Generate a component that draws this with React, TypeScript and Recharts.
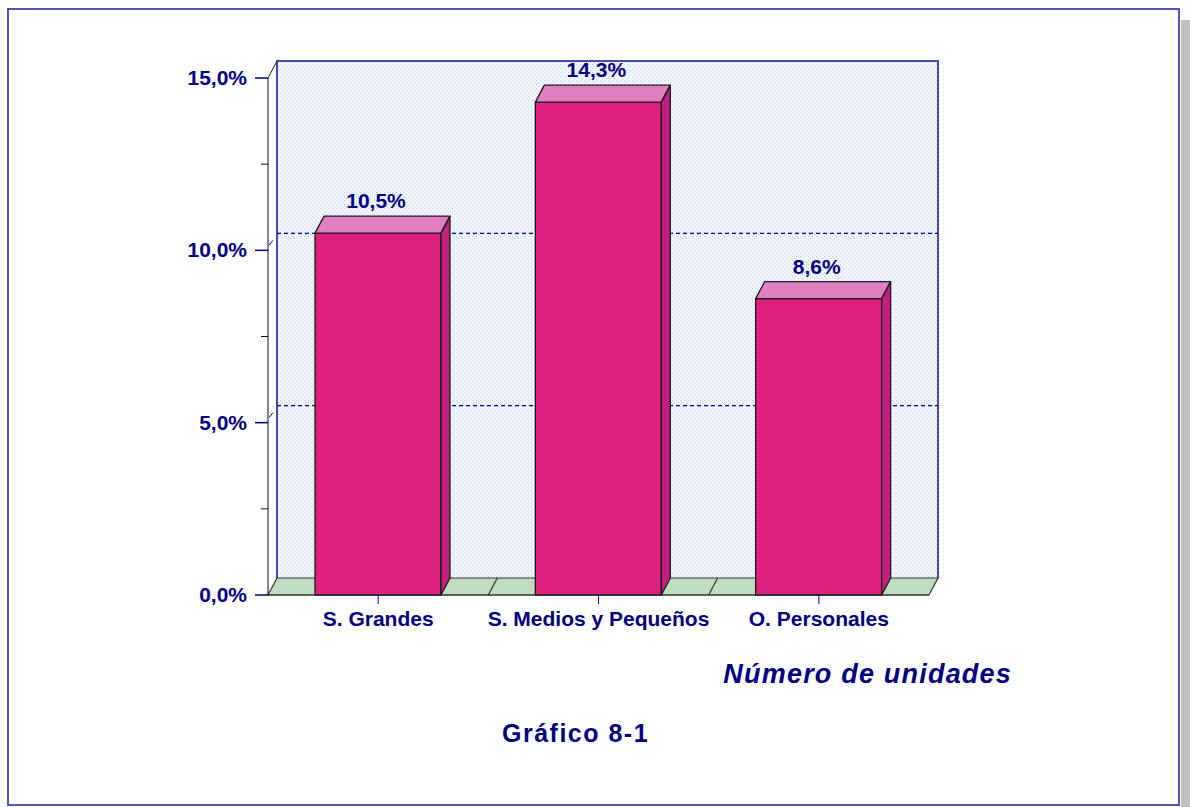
import { Bar, BarChart, LabelList, ReferenceArea, XAxis, YAxis } from "recharts";

const categories = ["S. Grandes", "S. Medios y Pequeños", "O. Personales"];
const values = [10.5, 14.3, 8.6];
const yTicks = [0, 2.5, 5, 7.5, 10, 12.5, 15];
const majorTicks = [0, 5, 10, 15];
const gridValues = [5, 10];

const NAVY = "#000080";
const FONT = "'Liberation Sans', Arial, sans-serif";
// 3D depth offset of the back wall / bar tops
const DX = 9;
const DY = -17;

const data = categories.map((name, i) => ({ name, value: values[i] }));

const pct = (v: number) => v.toFixed(1).replace(".", ",") + "%";

function WallShape(props: any) {
  const { x, y, width, height } = props;
  const bx = x + DX;
  const by = y + DY;
  const bottom = y + height;
  const n = categories.length;
  return (
    <g>
      <defs>
        <pattern id="wallDots" x={0} y={0} width={4} height={4} patternUnits="userSpaceOnUse">
          <rect width={4} height={4} fill="#f3f7fd" />
          <rect x={0} y={0} width={1} height={1} fill="#b4cff4" />
          <rect x={2} y={2} width={1} height={1} fill="#b4cff4" />
        </pattern>
      </defs>
      <rect x={bx} y={by} width={width} height={height} fill="url(#wallDots)" />
      <polyline
        points={`${bx},${by + height} ${bx},${by} ${bx + width},${by} ${bx + width},${by + height}`}
        fill="none"
        stroke="#4a4aa8"
        strokeWidth={2}
      />
      <line x1={x} y1={y} x2={bx} y2={by} stroke="#222" strokeWidth={1} />
      <polygon
        points={`${x},${bottom} ${x + width},${bottom} ${x + width + DX},${bottom + DY} ${bx},${bottom + DY}`}
        fill="#c0dcc0"
        stroke="#333"
        strokeWidth={1.2}
      />
      {Array.from({ length: n - 1 }, (_, i) => {
        const xs = x + (width * (i + 1)) / n;
        return <line key={i} x1={xs} y1={bottom} x2={xs + DX} y2={bottom + DY} stroke="#333" strokeWidth={1.2} />;
      })}
    </g>
  );
}

function GridShape(props: any) {
  const { x, y, width } = props;
  return (
    <g>
      <line x1={x + DX} y1={y + DY} x2={x + width + DX} y2={y + DY} stroke="#0000a8" strokeWidth={1.2} strokeDasharray="4 3" />
      <line x1={x + 1} y1={y - 5} x2={x + 5} y2={y - 10} stroke="#0000a8" strokeWidth={1} />
    </g>
  );
}

function Bar3D(props: any) {
  const { x, y, width, height } = props;
  if (height == null || height <= 0) return null;
  const r = x + width;
  const b = y + height;
  return (
    <g stroke="#1a1a1a" strokeWidth={1.3} strokeLinejoin="round">
      <rect x={x} y={y} width={width} height={height} fill="#e0207f" />
      <polygon points={`${x},${y} ${x + DX},${y + DY} ${r + DX},${y + DY} ${r},${y}`} fill="#e080c0" />
      <polygon points={`${r},${y} ${r + DX},${y + DY} ${r + DX},${b + DY} ${r},${b}`} fill="#c02080" />
    </g>
  );
}

function YTick(props: any) {
  const { x, y, payload } = props;
  const major = majorTicks.includes(payload.value);
  if (!major) {
    return <line x1={x - 7} y1={y} x2={x} y2={y} stroke="#111" strokeWidth={1} />;
  }
  return (
    <g>
      <line x1={x - 13} y1={y} x2={x} y2={y} stroke={NAVY} strokeWidth={1.5} />
      <text x={x - 21} y={y} dy={7} textAnchor="end" fill={NAVY} fontFamily={FONT} fontWeight="bold" fontSize={21}>
        {pct(payload.value)}
      </text>
    </g>
  );
}

function XTick(props: any) {
  const { x, y, payload } = props;
  return (
    <text x={x} y={y} dy={22} textAnchor="middle" fill={NAVY} fontFamily={FONT} fontWeight="bold" fontSize={21}>
      {payload.value}
    </text>
  );
}

function ValueLabel(props: any) {
  const { x, y, width, value } = props;
  return (
    <text x={x + width / 2 - 2} y={y - 25} textAnchor="middle" fill={NAVY} fontFamily={FONT} fontWeight="bold" fontSize={21}>
      {pct(Number(value))}
    </text>
  );
}

export default function App() {
  return (
    <div style={{ position: "absolute", left: 0, top: 0, width: 1190, height: 807, background: "#fff", overflow: "hidden" }}>
      <div style={{ position: "absolute", left: 1181, top: 20, width: 9, height: 787, background: "#c0c0c0" }} />
      <div
        style={{
          position: "absolute",
          left: 7,
          top: 8,
          width: 1173,
          height: 798,
          border: "2px solid #5555b0",
          boxSizing: "border-box",
        }}
      />
      <div style={{ position: "absolute", left: 0, top: 0 }}>
        <BarChart width={1190} height={807} data={data} margin={{ top: 78, right: 261, left: 0, bottom: 172 }}>
          <ReferenceArea y1={0} y2={15} shape={WallShape} zIndex={-200} ifOverflow="visible" />
          {gridValues.map((g) => (
            <ReferenceArea key={g} y1={0} y2={g} shape={GridShape} zIndex={-150} ifOverflow="visible" />
          ))}
          <XAxis
            dataKey="name"
            height={40}
            tickSize={9}
            tickMargin={0}
            tick={XTick}
            tickLine={{ stroke: NAVY }}
            axisLine={{ stroke: "#333", strokeWidth: 1.2 }}
            interval={0}
          />
          <YAxis
            width={268}
            domain={[0, 15]}
            ticks={yTicks}
            interval={0}
            tickSize={0}
            tickMargin={0}
            tickLine={false}
            tick={YTick}
            axisLine={{ stroke: "#111" }}
          />
          <Bar dataKey="value" barSize={126} shape={Bar3D} isAnimationActive={false}>
            <LabelList dataKey="value" content={ValueLabel} />
          </Bar>
        </BarChart>
      </div>
      <svg width={1190} height={807} style={{ position: "absolute", left: 0, top: 0, pointerEvents: "none" }}>
        <text
          x={1012}
          y={683}
          textAnchor="end"
          fill={NAVY}
          fontFamily={FONT}
          fontWeight="bold"
          fontStyle="italic"
          fontSize={27}
          letterSpacing={1.2}
        >
          Número de unidades
        </text>
        <text x={502} y={742} fill={NAVY} fontFamily={FONT} fontWeight="bold" fontSize={25} letterSpacing={1.5}>
          Gráfico 8-1
        </text>
      </svg>
    </div>
  );
}
